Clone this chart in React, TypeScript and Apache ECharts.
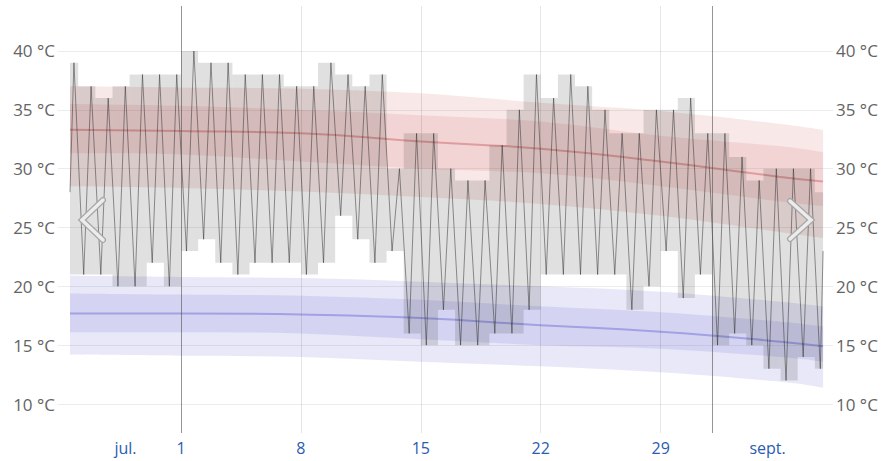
import React, { useEffect, useRef } from "react";
import * as echarts from "echarts";

// ---- Data (days relative to 1 Aug = 0) ----
const DAYS = [-7, -6, -5, -4, -3, -2, -1, 0, 1, 2, 3, 4, 5, 6, 7, 8, 9, 10, 11, 12, 13, 14, 15, 16, 17, 18, 19, 20, 21, 22, 23, 24, 25, 26, 27, 28, 29, 30, 31, 32, 33, 34, 35, 36, 37];
const DAILY_HIGH = [39, 37, 36, 37, 38, 38, 38, 40, 39, 39, 38, 38, 38, 37, 37, 39, 38, 37, 38, 30, 33, 33, 30, 29, 29, 32, 35, 38, 36, 38, 37, 35, 33, 33, 35, 35, 36, 33, 33, 31, 29, 30, 30, 30, 28];
const DAILY_LOW = [21, 21, 21, 20, 20, 22, 20, 23, 24, 22, 21, 22, 22, 22, 21, 22, 26, 24, 22, 23, 16, 15, 18, 15, 15, 16, 16, 18, 21, 21, 21, 21, 21, 18, 20, 23, 19, 21, 15, 16, 15, 13, 12, 14, 13];

const DATA_START = -6.48;
const DATA_END = 37.48;
const LINE_START_VALUE = 28;
const LINE_END_VALUE = 23;
const LOW_TIME = 0.32; // fraction of day when the daily low occurs
const HIGH_TIME = 0.75; // fraction of day when the daily high occurs

// Climate percentile bands (sample days)
const BAND_DAYS = [-6.48, 0, 7, 14, 21, 28, 35, 37.48];
const HIGH_P90 = [37.0, 36.9, 36.8, 36.4, 35.6, 34.9, 33.8, 33.3];
const HIGH_P75 = [35.5, 35.35, 35.0, 34.55, 34.0, 32.8, 31.9, 31.4];
const HIGH_P50 = [33.3, 33.2, 33.0, 32.3, 31.7, 30.6, 29.3, 28.9];
const HIGH_P25 = [31.3, 31.2, 30.6, 30.0, 29.6, 28.5, 27.2, 26.8];
const HIGH_P10 = [28.5, 28.35, 28.05, 27.6, 27.0, 26.0, 24.6, 24.1];
const LOW_P90 = [20.9, 20.8, 20.7, 20.4, 20.0, 19.55, 18.7, 18.3];
const LOW_P75 = [19.4, 19.3, 19.2, 18.85, 18.3, 17.8, 17.0, 16.6];
const LOW_P50 = [17.7, 17.7, 17.6, 17.3, 16.7, 16.15, 15.3, 14.9];
const LOW_P25 = [16.1, 16.1, 16.0, 15.5, 15.0, 14.7, 14.0, 13.6];
const LOW_P10 = [14.2, 14.1, 14.0, 13.6, 13.2, 12.7, 11.9, 11.4];

// Axes
const X_MIN = -7.18;
const X_MAX = 38.06;
const Y_MIN = 7.536;
const Y_MAX = 43.824;
const Y_TICKS = [10, 15, 20, 25, 30, 35, 40];
const X_LABEL_POS = [-3.24, 0, 7, 14, 21, 28, 34.24];
const X_LABELS = ["jul.", "1", "8", "15", "22", "29", "sept."];
const MONTH_LINES = [0, 31];
const WEEK_LINES = [7, 14, 21, 28];

const FONT = "'Open Sans', 'Noto Sans', sans-serif";

function pairs(xs: number[], ys: number[]) {
  return xs.map((x, i) => [x, ys[i]]);
}

// Catmull-Rom style cubic path segment through pixel points
function curveTo(pts: number[][], start: boolean) {
  let d = start ? `M${pts[0][0]},${pts[0][1]}` : `L${pts[0][0]},${pts[0][1]}`;
  for (let i = 0; i < pts.length - 1; i++) {
    const p0 = pts[Math.max(i - 1, 0)];
    const p1 = pts[i];
    const p2 = pts[i + 1];
    const p3 = pts[Math.min(i + 2, pts.length - 1)];
    const c1x = p1[0] + (p2[0] - p0[0]) / 6;
    const c1y = p1[1] + (p2[1] - p0[1]) / 6;
    const c2x = p2[0] - (p3[0] - p1[0]) / 6;
    const c2y = p2[1] - (p3[1] - p1[1]) / 6;
    d += `C${c1x},${c1y},${c2x},${c2y},${p2[0]},${p2[1]}`;
  }
  return d;
}

function bandSeries(lower: number[], upper: number[], color: string) {
  return {
    type: "custom",
    data: [[0]],
    silent: true,
    z: 1,
    clip: true,
    renderItem: (_params: any, api: any) => {
      const up = BAND_DAYS.map((d, i) => api.coord([d, upper[i]]));
      const lo = BAND_DAYS.map((d, i) => api.coord([d, lower[i]])).reverse();
      const pathData = curveTo(up, true) + curveTo(lo, false) + "Z";
      return {
        type: "path",
        shape: { pathData },
        style: { fill: color, stroke: "none" },
      };
    },
  };
}

export default function App() {
  const ref = useRef<HTMLDivElement>(null);

  useEffect(() => {
    if (!ref.current) return;
    const chart = echarts.init(ref.current, null, { renderer: "svg" });

    const hourly: number[][] = [[DATA_START, LINE_START_VALUE]];
    DAYS.forEach((d, i) => {
      const tl = d + LOW_TIME;
      const th = d + HIGH_TIME;
      if (tl > DATA_START && tl < DATA_END) hourly.push([tl, DAILY_LOW[i]]);
      if (th > DATA_START && th < DATA_END) hourly.push([th, DAILY_HIGH[i]]);
    });
    hourly.push([DATA_END, LINE_END_VALUE]);

    const boxes = DAYS.map((d, i) => [
      Math.max(d, DATA_START),
      Math.min(d + 1, DATA_END),
      DAILY_LOW[i],
      DAILY_HIGH[i],
    ]);

    const redBand = "rgba(210,90,90,0.14)";
    const blueBand = "rgba(100,100,210,0.15)";

    const yAxisCommon = {
      type: "value",
      min: Y_MIN,
      max: Y_MAX,
      axisLine: { show: false },
      axisTick: { show: false },
      splitLine: { show: false },
      axisLabel: {
        customValues: Y_TICKS,
        formatter: (v: number) => `${v} °C`,
        color: "#646464",
        fontSize: 17,
        fontFamily: FONT,
        margin: 3,
      },
    };

    chart.setOption({
      animation: false,
      grid: { left: 58, right: 51, top: 6, bottom: 28, containLabel: false },
      xAxis: {
        type: "value",
        min: X_MIN,
        max: X_MAX,
        axisLine: { show: false },
        axisTick: { show: false },
        splitLine: { show: false },
        axisLabel: {
          customValues: X_LABEL_POS,
          formatter: (v: number) => {
            const idx = X_LABEL_POS.findIndex((p) => Math.abs(p - v) < 1e-6);
            return idx >= 0 ? X_LABELS[idx] : "";
          },
          color: "#2a5cb0",
          fontSize: 16,
          fontFamily: FONT,
          margin: 7,
        },
      },
      yAxis: [
        { ...yAxisCommon, position: "left" },
        { ...yAxisCommon, position: "right" },
      ],
      series: [
        // horizontal grid lines
        {
          type: "line",
          data: [],
          silent: true,
          z: 0,
          markLine: {
            silent: true,
            z: 0,
            symbol: ["none", "none"],
            label: { show: false },
            lineStyle: { color: "rgba(0,0,0,0.075)", width: 1, type: "solid" },
            emphasis: { disabled: true },
            data: Y_TICKS.map((v) => ({ yAxis: v })),
          },
        },
        bandSeries(HIGH_P10, HIGH_P90, redBand),
        bandSeries(HIGH_P25, HIGH_P75, redBand),
        bandSeries(LOW_P10, LOW_P90, blueBand),
        bandSeries(LOW_P25, LOW_P75, blueBand),
        {
          type: "line",
          data: pairs(BAND_DAYS, HIGH_P50),
          smooth: true,
          symbol: "none",
          silent: true,
          lineStyle: { color: "rgba(200,90,90,0.45)", width: 2 },
          z: 2,
        },
        {
          type: "line",
          data: pairs(BAND_DAYS, LOW_P50),
          smooth: true,
          symbol: "none",
          silent: true,
          lineStyle: { color: "rgba(100,100,210,0.45)", width: 2 },
          z: 2,
        },
        {
          type: "custom",
          data: boxes,
          encode: { x: [0, 1], y: [2, 3] },
          silent: true,
          z: 3,
          renderItem: (params: any, api: any) => {
            const p0 = api.coord([api.value(0), api.value(3)]);
            const p1 = api.coord([api.value(1), api.value(2)]);
            return {
              type: "rect",
              shape: { x: p0[0], y: p0[1], width: p1[0] - p0[0], height: p1[1] - p0[1] },
              style: { fill: "rgba(0,0,0,0.12)" },
            };
          },
        },
        {
          type: "line",
          data: hourly,
          symbol: "none",
          silent: true,
          lineStyle: { color: "rgba(40,40,40,0.55)", width: 0.9 },
          z: 4,
          markLine: {
            silent: true,
            symbol: ["none", "none"],
            label: { show: false },
            emphasis: { disabled: true },
            data: [
              ...WEEK_LINES.map((v) => ({
                xAxis: v,
                lineStyle: { color: "rgba(0,0,0,0.1)", width: 1, type: "solid" },
              })),
              ...MONTH_LINES.map((v) => ({
                xAxis: v,
                lineStyle: { color: "rgba(80,80,80,0.6)", width: 1, type: "solid" },
              })),
            ],
          },
        },
      ],
      graphic: [
        {
          type: "polyline",
          shape: { points: [[103, 200], [82, 220], [103, 240]] },
          style: { stroke: "#a8a8a8", lineWidth: 6, fill: "none", lineCap: "round" },
          z: 100,
        },
        {
          type: "polyline",
          shape: { points: [[103, 200], [82, 220], [103, 240]] },
          style: { stroke: "#ececec", lineWidth: 3.5, fill: "none", lineCap: "round" },
          z: 101,
        },
        {
          type: "polyline",
          shape: { points: [[790, 201], [811, 220], [790, 239]] },
          style: { stroke: "#a8a8a8", lineWidth: 6, fill: "none", lineCap: "round" },
          z: 100,
        },
        {
          type: "polyline",
          shape: { points: [[790, 201], [811, 220], [790, 239]] },
          style: { stroke: "#ececec", lineWidth: 3.5, fill: "none", lineCap: "round" },
          z: 101,
        },
      ],
    });

    return () => chart.dispose();
  }, []);

  return (
    <div
      ref={ref}
      style={{ position: "fixed", left: 0, top: 0, width: 884, height: 461, background: "#fff" }}
    />
  );
}
